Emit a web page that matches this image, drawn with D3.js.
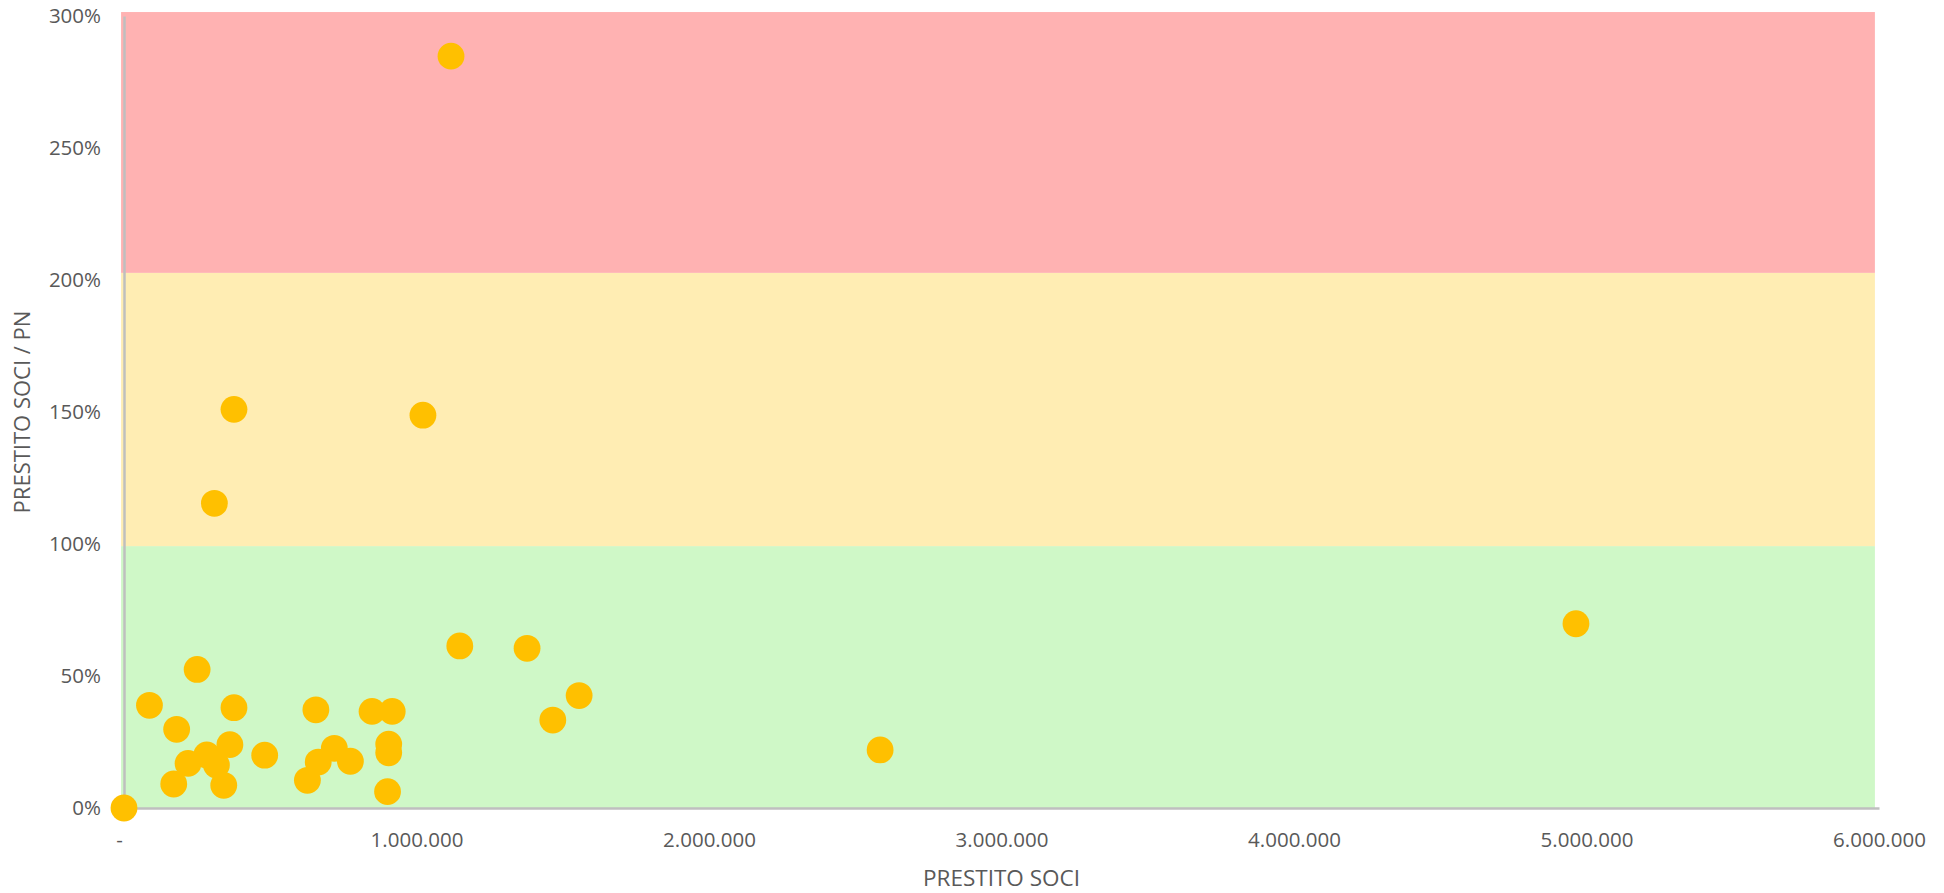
<!DOCTYPE html>
<html>
<head>
<meta charset="utf-8">
<script src="https://cdn.jsdelivr.net/npm/d3@7"></script>
<style>
  html, body { margin: 0; padding: 0; background: #ffffff; }
  svg { display: block; }
  text { font-family: "Open Sans", "Noto Sans", sans-serif; fill: #595959; }
</style>
</head>
<body>
<svg id="chart" width="1944" height="893"></svg>
<script>
// ---- Data ----
// Prestito soci (x, EUR) and Prestito soci / PN (y, ratio)
const prestitoSoci = [
  1118000, 376000, 1022000, 309000, 4964000, 1148000, 1378000, 250000,
  1556000, 1466000, 2585000, 0,
  87000, 376000, 656000, 848000, 917000, 180000, 362000, 905000, 905000,
  283000, 219000, 316000, 481000, 719000, 664000, 774000, 627000, 170000,
  341000, 901000
];
const rapportoPN = [
  2.848, 1.510, 1.488, 1.154, 0.698, 0.614, 0.605, 0.525,
  0.426, 0.333, 0.220, 0.0,
  0.389, 0.380, 0.372, 0.366, 0.366, 0.298, 0.240, 0.242, 0.209,
  0.201, 0.169, 0.163, 0.200, 0.226, 0.174, 0.177, 0.105, 0.091,
  0.086, 0.062
];
// Background risk bands (ratio ranges)
const bandNames = ["verde", "giallo", "rosso"];
const bandFrom  = [0.0, 0.992, 2.027];
const bandTo    = [0.992, 2.027, 3.015];
const bandColors = ["#CFF8C7", "#FFEDB3", "#FFB2B2"];
const bandXFrom = -10000;
const bandXTo = 5986000;

const xTicks = [0, 1000000, 2000000, 3000000, 4000000, 5000000, 6000000];
const yTicks = [0, 0.5, 1.0, 1.5, 2.0, 2.5, 3.0];
const xTitle = "PRESTITO SOCI";
const yTitle = "PRESTITO SOCI / PN";

// ---- Layout ----
const W = 1944, H = 893;
const margin = { top: 16, right: 65, bottom: 85, left: 124 };
const iw = W - margin.left - margin.right;
const ih = H - margin.top - margin.bottom;

const svg = d3.select("#chart");
const g = svg.append("g").attr("transform", `translate(${margin.left},${margin.top})`);

const x = d3.scaleLinear().domain([0, 6000000]).range([0, iw]);
const y = d3.scaleLinear().domain([0, 3]).range([ih, 0]);

// bands
const bands = bandNames.map((n, i) => ({ name: n, from: bandFrom[i], to: bandTo[i], color: bandColors[i] }));
g.selectAll("rect.band").data(bands).enter().append("rect")
  .attr("class", "band")
  .attr("x", x(bandXFrom))
  .attr("width", x(bandXTo) - x(bandXFrom))
  .attr("y", d => y(d.to))
  .attr("height", d => y(d.from) - y(d.to))
  .attr("fill", d => d.color);

// axes
const fmtIt = v => v === 0 ? "-" : d3.format(",")(v).replace(/,/g, ".");
const xAxis = d3.axisBottom(x).tickValues(xTicks).tickFormat(fmtIt).tickSize(0).tickPadding(24);
const yAxis = d3.axisLeft(y).tickValues(yTicks).tickFormat(d3.format(".0%")).tickSize(0).tickPadding(23);

const gx = g.append("g").attr("transform", `translate(0,${ih})`).call(xAxis);
gx.select(".domain").attr("stroke", "#BFBFBF").attr("stroke-width", 2.5);
gx.selectAll(".tick text").attr("font-size", 20.5).attr("fill", "#595959")
  .attr("font-family", "'Open Sans', sans-serif")
  .attr("dx", d => d === 0 ? -5 : 0);

const gy = g.append("g").call(yAxis);
gy.select(".domain").attr("stroke", "#BFBFBF").attr("stroke-width", 2.5);
gy.selectAll(".tick text").attr("font-size", 20.5).attr("fill", "#595959")
  .attr("font-family", "'Open Sans', sans-serif");

// titles
svg.append("text")
  .attr("x", margin.left + iw / 2)
  .attr("y", 886)
  .attr("text-anchor", "middle")
  .attr("font-size", 22.5)
  .text(xTitle);

svg.append("text")
  .attr("transform", `translate(30,${margin.top + ih / 2}) rotate(-90)`)
  .attr("text-anchor", "middle")
  .attr("font-size", 22)
  .text(yTitle);

// points
const pts = prestitoSoci.map((v, i) => ({ x: v, y: rapportoPN[i] }));
g.selectAll("circle.pt").data(pts).enter().append("circle")
  .attr("class", "pt")
  .attr("cx", d => x(d.x))
  .attr("cy", d => y(d.y))
  .attr("r", 13.4)
  .attr("fill", "#FFC000");
</script>
</body>
</html>
